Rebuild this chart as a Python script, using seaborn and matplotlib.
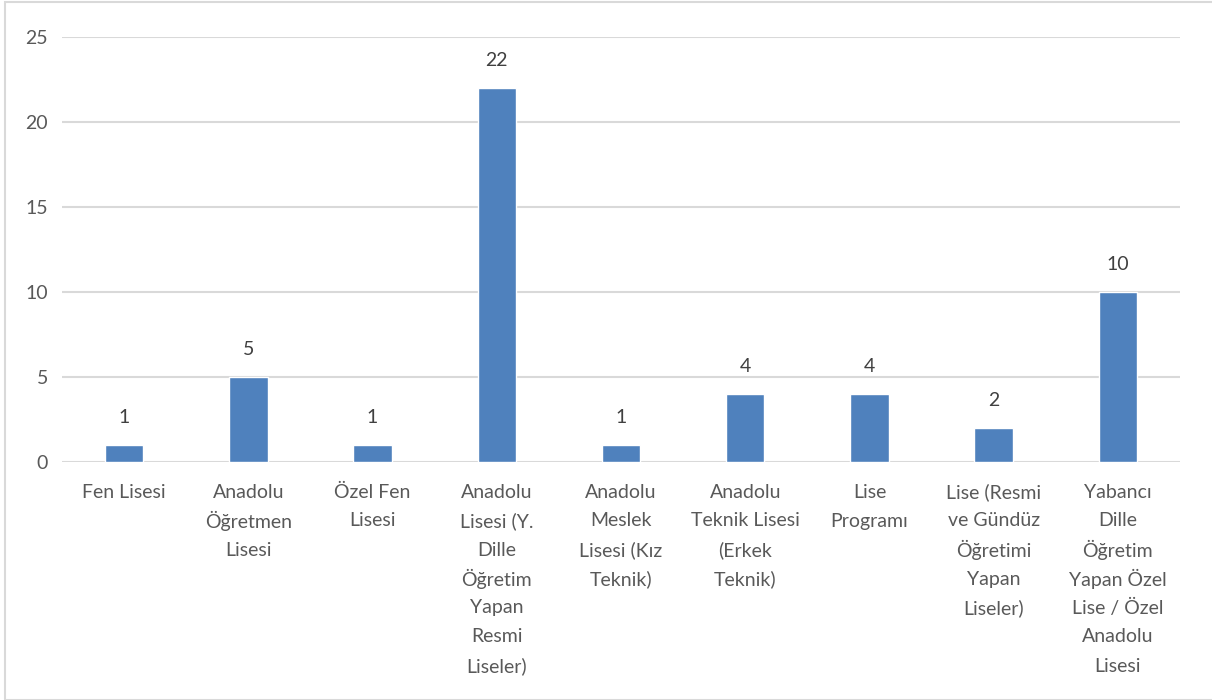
import matplotlib
matplotlib.use("Agg")
import matplotlib.pyplot as plt
import matplotlib.patches as patches
import pandas as pd
import seaborn as sns

# ============ DATA ============
categories = [
    "Fen Lisesi",
    "Anadolu\nÖğretmen\nLisesi",
    "Özel Fen\nLisesi",
    "Anadolu\nLisesi (Y.\nDille\nÖğretim\nYapan\nResmi\nLiseler)",
    "Anadolu\nMeslek\nLisesi (Kız\nTeknik)",
    "Anadolu\nTeknik Lisesi\n(Erkek\nTeknik)",
    "Lise\nProgramı",
    "Lise (Resmi\nve Gündüz\nÖğretimi\nYapan\nLiseler)",
    "Yabancı\nDille\nÖğretim\nYapan Özel\nLise / Özel\nAnadolu\nLisesi",
]
counts = [1, 5, 1, 22, 1, 4, 4, 2, 10]
y_ticks = [0, 5, 10, 15, 20, 25]

df = pd.DataFrame({"kategori": categories, "sayi": counts})

# ============ STYLE ============
sns.set_theme(style="white")
plt.rcParams["font.family"] = ["Lato", "DejaVu Sans"]
text_color = "#595959"
grid_color = "#D9D9D9"
bar_color = "#4F81BD"
fs = 14

W, H = 1212, 700
fig = plt.figure(figsize=(W / 100, H / 100), dpi=100)

# thin grey frame around the chart area
fig.patches.append(patches.Rectangle(
    (5 / W, 0), 1.2, (H - 2) / H, transform=fig.transFigure,
    fill=False, edgecolor=grid_color, linewidth=1.5))

ax = fig.add_axes([62 / W, 1 - 462 / H, (1180 - 62) / W, (462 - 37) / H])

sns.barplot(data=df, x="kategori", y="sayi", color=bar_color,
            width=0.31, saturation=1, ax=ax)

ax.set_ylim(0, 25)
ax.set_yticks(y_ticks)
ax.set_xlim(-0.5, len(categories) - 0.5)
ax.set_xlabel("")
ax.set_ylabel("")

for yv in y_ticks:
    ax.axhline(yv, color=grid_color, linewidth=1.5, zorder=0)

for s in ax.spines.values():
    s.set_visible(False)

ax.tick_params(axis="y", length=0, pad=10, labelsize=fs, labelcolor=text_color)

# category labels: one text per line so the line spacing stays even
ax.set_xticks(range(len(categories)))
ax.set_xticklabels([])
ax.tick_params(axis="x", length=0)
first_line = 30 * 0.72   # px -> pt below the axis
line_step = 29 * 0.72
for i, cat in enumerate(categories):
    for j, line in enumerate(cat.split("\n")):
        ax.annotate(line, xy=(i, 0), xycoords=("data", "axes fraction"),
                    xytext=(0, -(first_line + j * line_step)),
                    textcoords="offset points", ha="center", va="center",
                    fontsize=fs, color=text_color, annotation_clip=False)

ax.bar_label(ax.containers[0], labels=[str(v) for v in counts],
             padding=14, fontsize=fs, color="#404040")

fig.savefig("out.png", dpi=100)
